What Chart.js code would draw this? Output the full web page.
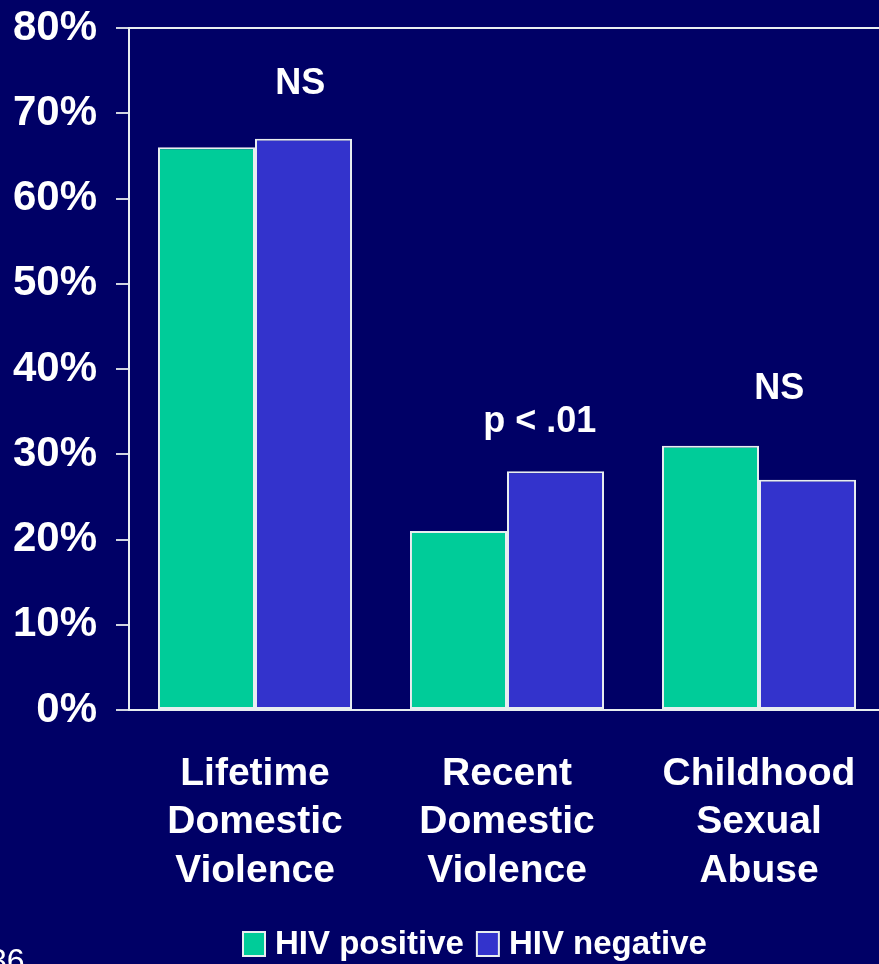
<!DOCTYPE html>
<html lang="en">
<head>
    <meta charset="UTF-8">
    <title>Abuse history by HIV status</title>
    <script src="https://cdn.jsdelivr.net/npm/chart.js@4.4.0/dist/chart.umd.min.js"></script>
    <style>
        html, body { margin: 0; padding: 0; background: #000066; overflow: hidden; }
        #wrap { position: relative; width: 885px; height: 964px; }
    </style>
</head>
<body>
<div id="wrap">
    <canvas id="barChart"></canvas>
</div>
<script>
    const categories = [
        ['Lifetime', 'Domestic', 'Violence'],
        ['Recent', 'Domestic', 'Violence'],
        ['Childhood', 'Sexual', 'Abuse']
    ];
    const hivPositive = [66, 21, 31];
    const hivNegative = [67, 28, 27];
    const significance = ['NS', 'p < .01', 'NS'];
    const yTicks = [0, 10, 20, 30, 40, 50, 60, 70, 80];

    const FONT = '"Liberation Sans", Arial, sans-serif';

    // significance notes above each pair, legend row, slide number
    const notesPlugin = {
        id: 'notes',
        afterDatasetsDraw(chart, args, opts) {
            const ctx = chart.ctx;
            const x = chart.scales.x, y = chart.scales.y;
            const catW = x.getPixelForValue(1) - x.getPixelForValue(0);
            ctx.save();
            ctx.fillStyle = '#ffffff';
            ctx.font = 'bold 36px ' + FONT;
            ctx.textAlign = 'center';
            ctx.textBaseline = 'middle';
            significance.forEach((t, i) => {
                ctx.fillText(t, x.getPixelForValue(i) + opts.shift[i] * catW, y.getPixelForValue(opts.level[i]));
            });

            // legend: square swatch then the series name
            ctx.font = 'bold 33px ' + FONT;
            ctx.textAlign = 'left';
            let lx = opts.legendX;
            const ly = opts.legendY;
            chart.data.datasets.forEach(ds => {
                ctx.fillStyle = ds.backgroundColor;
                ctx.fillRect(lx, ly - 12, 22, 24);
                ctx.strokeStyle = ds.borderColor;
                ctx.lineWidth = 2;
                ctx.strokeRect(lx, ly - 12, 22, 24);
                ctx.fillStyle = '#ffffff';
                ctx.fillText(ds.label, lx + 32, ly + 1);
                lx += 32 + ctx.measureText(ds.label).width + 13;
            });

            ctx.font = '32px ' + FONT;
            ctx.textBaseline = 'top';
            ctx.fillText('36', -11, 946);
            ctx.restore();
        }
    };

    new Chart(document.getElementById('barChart'), {
        type: 'bar',
        data: {
            labels: categories,
            datasets: [{
                label: 'HIV positive',
                data: hivPositive,
                backgroundColor: '#00cc99',
                borderColor: '#e8eef0',
                borderWidth: 2,
                borderSkipped: false,
                barPercentage: 1.0,
                categoryPercentage: 0.77
            }, {
                label: 'HIV negative',
                data: hivNegative,
                backgroundColor: '#3333cc',
                borderColor: '#e8eef0',
                borderWidth: 2,
                borderSkipped: false,
                barPercentage: 1.0,
                categoryPercentage: 0.77
            }]
        },
        options: {
            responsive: true,
            maintainAspectRatio: false,
            animation: false,
            layout: {padding: {top: 28, bottom: 54, left: 0, right: 0}},
            scales: {
                x: {
                    afterFit(scale) {
                        scale.height = 200;
                        scale.paddingLeft = 0;
                        scale.paddingRight = 0;
                    },
                    grid: {display: false, drawTicks: false},
                    border: {display: true, color: '#e8eef0', width: 2},
                    ticks: {
                        color: '#ffffff',
                        padding: 40,
                        maxRotation: 0,
                        font: {family: FONT, size: 39, weight: 'bold', lineHeight: 1.24}
                    }
                },
                y: {
                    min: 0,
                    max: 80,
                    afterFit(scale) {
                        scale.width = 129;
                        scale.paddingTop = 0;
                        scale.paddingBottom = 0;
                    },
                    afterBuildTicks(scale) { scale.ticks = yTicks.map(v => ({value: v})); },
                    border: {display: true, color: '#e8eef0', width: 2},
                    grid: {
                        drawOnChartArea: true,
                        color: c => c.tick && c.tick.value === 80 ? '#e8eef0' : 'rgba(0,0,0,0)',
                        tickColor: '#d0d4e0',
                        tickLength: 13,
                        lineWidth: 2
                    },
                    ticks: {
                        color: '#ffffff',
                        padding: 19,
                        font: {family: FONT, size: 42, weight: 'bold'},
                        callback: v => v + '%'
                    }
                }
            },
            plugins: {
                legend: {display: false},
                tooltip: {enabled: false},
                notes: {
                    shift: [0.18, 0.13, 0.08],
                    level: [73.4, 33.8, 37.7],
                    legendX: 243,
                    legendY: 944
                }
            }
        },
        plugins: [notesPlugin]
    });
</script>
</body>
</html>
